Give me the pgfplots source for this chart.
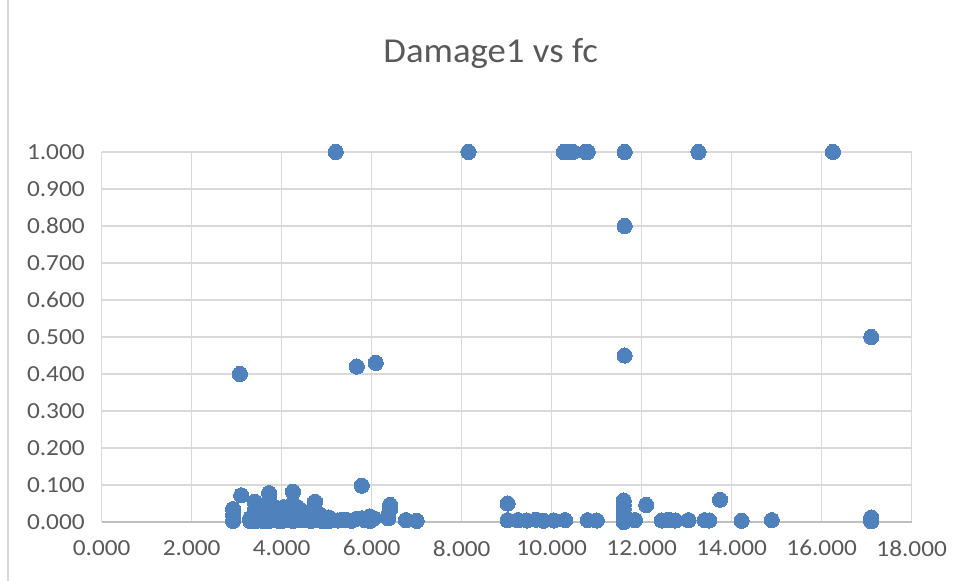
\documentclass[border=0pt]{standalone}
\usepackage{pgfplots}
\pgfplotsset{compat=1.18}
\usepackage{fontspec}
\setmainfont{Carlito}
\newfontfamily\tickfont[FakeStretch=1.1]{Carlito}
\newfontfamily\titlefont[FakeStretch=1.05]{Carlito}
\definecolor{dotblue}{HTML}{4F81BD}
\definecolor{gridgray}{HTML}{D9D9D9}
\definecolor{axgray}{HTML}{BFBFBF}
\definecolor{txtgray}{HTML}{595959}
\begin{document}
\begin{tikzpicture}
\useasboundingbox (-50.85pt,-29.5pt) rectangle (431.15pt,261pt);
\draw[gridgray, line width=0.6pt] (-46.85pt,-29.5pt) -- (-46.85pt,261pt);
\node[txtgray, font=\titlefont\fontsize{17.5}{20}\selectfont] at (194.5pt,234pt) {Damage1 vs fc};
\begin{axis}[
  at={(0pt,0pt)}, anchor=south west,
  scale only axis, width=405pt, height=185pt,
  xmin=0, xmax=18, ymin=0, ymax=1,
  xtick={0,2,4,6,8,10,12,14,16,18},
  ytick={0,0.1,0.2,0.3,0.4,0.5,0.6,0.7,0.8,0.9,1},
  xmajorgrids, ymajorgrids,
  major grid style={gridgray, line width=0.6pt},
  axis x line*=bottom, axis y line*=left,
  x axis line style={axgray, line width=0.7pt, -},
  y axis line style={gridgray, line width=0.6pt, -},
  major tick length=0pt,
  clip=false,
  /pgf/number format/.cd, fixed, fixed zerofill, precision=3, assume math mode=true,
  /pgfplots/.cd,
  tick label style={txtgray, font=\tickfont\fontsize{11.5}{13}\selectfont, inner sep=0pt},
  xticklabel shift=9pt, yticklabel shift=8.3pt,
]
\addplot[only marks, mark=*, mark size=3.8pt, mark options={fill=dotblue, draw=dotblue, line width=0pt}] coordinates {
(2.92,0.035) (2.92,0.02) (2.92,0.003)
(3.1,0.072)
(3.3,0.01) (3.3,0.003)
(3.4,0.055) (3.4,0.03) (3.4,0.015) (3.4,0.002)
(3.5,0.04) (3.5,0.02) (3.5,0.005)
(3.6,0.03) (3.6,0.01) (3.6,0.002)
(3.72,0.078) (3.72,0.06) (3.72,0.045) (3.72,0.03) (3.72,0.015) (3.72,0.003)
(3.85,0.04) (3.85,0.02) (3.85,0.005)
(3.95,0.035) (3.95,0.01) (3.95,0.002)
(4.05,0.04) (4.05,0.02) (4.05,0.004)
(4.15,0.03) (4.15,0.008)
(4.25,0.082) (4.25,0.05) (4.25,0.02) (4.25,0.003)
(4.35,0.04) (4.35,0.01)
(4.45,0.03) (4.45,0.005)
(4.55,0.025) (4.55,0.005)
(4.65,0.015) (4.65,0.003)
(4.74,0.055) (4.74,0.03) (4.74,0.005)
(4.85,0.02) (4.85,0.004)
(4.95,0.01) (4.95,0.002)
(5.05,0.012) (5.05,0.003)
(5.15,0.005) (5.25,0.004) (5.35,0.006) (5.45,0.005) (5.55,0.003) (5.65,0.008)
(5.78,0.098) (5.78,0.01)
(5.85,0.005)
(5.96,0.015) (5.96,0.003)
(6.05,0.01)
(6.37,0.02) (6.37,0.01)
(6.41,0.046) (6.41,0.035)
(6.76,0.005) (7.0,0.003)
(9.02,0.05) (9.02,0.005)
(9.25,0.005) (9.45,0.004) (9.65,0.006) (9.82,0.003) (10.05,0.004) (10.3,0.005)
(10.8,0.005) (11.0,0.004)
(11.6,0.058) (11.6,0.045) (11.6,0.035) (11.6,0.025) (11.6,0.015) (11.6,0.005) (11.6,0.0)
(11.85,0.005) (12.1,0.046)
(12.45,0.004) (12.6,0.006) (12.75,0.004)
(13.04,0.005) (13.4,0.005) (13.5,0.004) (13.74,0.06)
(14.22,0.003) (14.89,0.005)
(17.1,0.012) (17.1,0.002)
(5.2,1) (8.15,1) (10.27,1) (10.35,1) (10.47,1) (10.75,1) (10.8,1) (11.62,1) (13.26,1) (16.25,1)
(11.62,0.8) (11.62,0.45) (17.1,0.5)
(3.07,0.4) (5.67,0.42) (6.09,0.43)
};
\end{axis}
\end{tikzpicture}
\end{document}
